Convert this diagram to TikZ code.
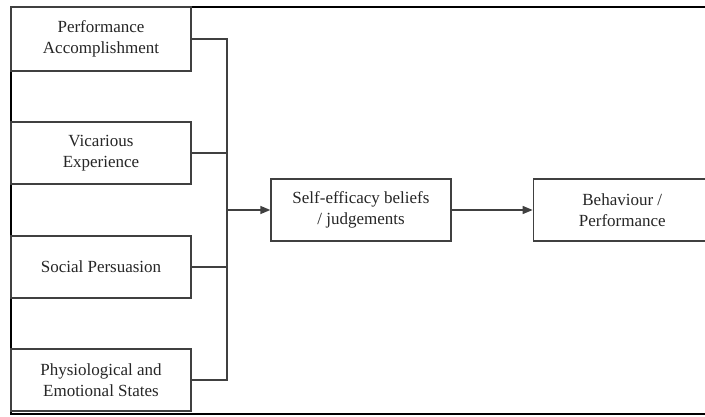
\documentclass[tikz,border=0pt]{standalone}
\usepackage{fontspec}
\setmainfont{Liberation Serif}
\usetikzlibrary{positioning, arrows.meta}
\tikzset{
    >={Triangle[length=10pt, width=8pt]}, % filled arrow heads
    node distance=81pt, % gap between the two boxes on the right
    every box/.style={draw=black!75, line width=1.3pt, fill=white, text=black!85,
        align=center, minimum width=180pt, minimum height=62pt,
        font=\fontsize{17}{21}\selectfont}, % sets the properties for each box
    link/.style={draw=black!75, line width=1.3pt}, % connectors
}

\begin{document}
\begin{tikzpicture}[x=1pt, y=-1pt]
    \useasboundingbox (0,0) rectangle (705,417);

        % outer frame, open on the right
        \draw[line width=2pt] (720,7) -- (11,7) -- (11,414) -- (720,414);

        \node[every box, minimum height=64pt] (pa) at (101,39) {Performance\\Accomplishment};
        \node[every box] (ve) at (101,153) {Vicarious\\Experience};
        \node[every box] (sp) at (101,267) {Social Persuasion};
        \node[every box] (ps) at (101,380) {Physiological and\\Emotional States};

        \node[every box] (se) at (361,210) {Self-efficacy beliefs\\/ judgements};
        \node[every box, minimum width=178pt, right=of se] (bp) {Behaviour /\\Performance};

        \coordinate (hub) at (227,210);

        \draw[link] (pa.east) -| (hub);
        \draw[link] (ve.east) -| (hub);
        \draw[link] (sp.east) -| (hub);
        \draw[link] (ps.east) -| (hub);
        \draw[link, ->] (hub) -- (se);
        \draw[link, ->] (se) -- (bp);

    \end{tikzpicture}
\end{document}
